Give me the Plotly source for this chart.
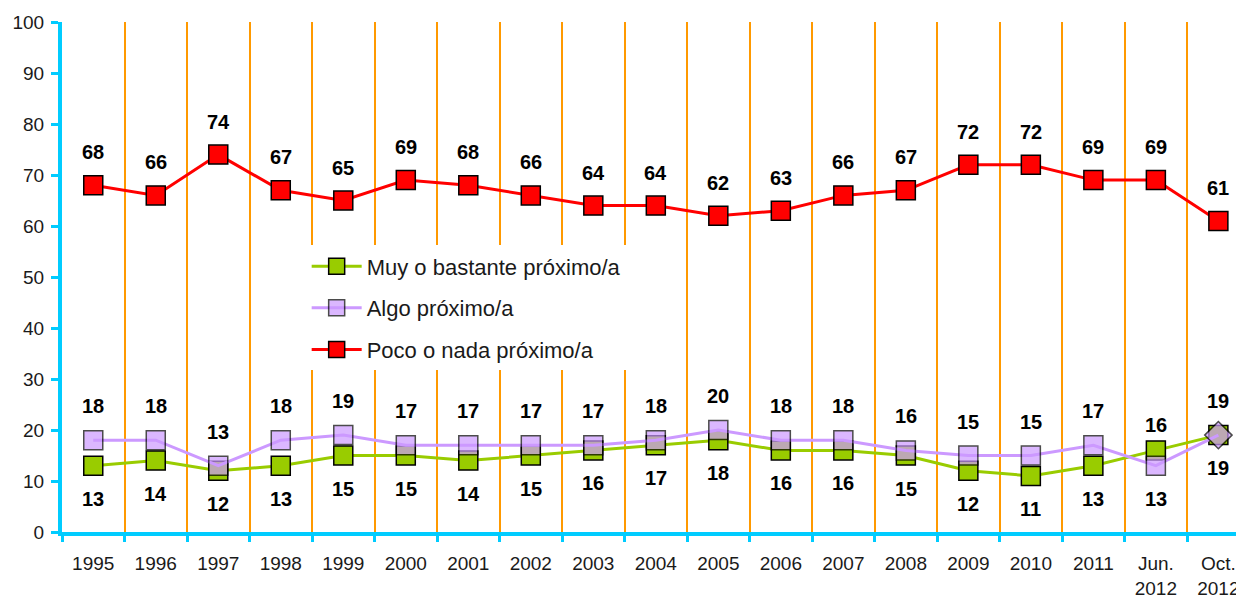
import plotly.graph_objects as go

categories = ["1995", "1996", "1997", "1998", "1999", "2000", "2001", "2002", "2003",
              "2004", "2005", "2006", "2007", "2008", "2009", "2010", "2011",
              "Jun.<br>2012", "Oct.<br>2012"]
muy = [13, 14, 12, 13, 15, 15, 14, 15, 16, 17, 18, 16, 16, 15, 12, 11, 13, 16, 19]
algo = [18, 18, 13, 18, 19, 17, 17, 17, 17, 18, 20, 18, 18, 16, 15, 15, 17, 13, 19]
poco = [68, 66, 74, 67, 65, 69, 68, 66, 64, 64, 62, 63, 66, 67, 72, 72, 69, 69, 61]
names = ["Muy o bastante próximo/a", "Algo próximo/a", "Poco o nada próximo/a"]

FONT = "Arial, Liberation Sans, sans-serif"
CYAN = "#00CCFF"
colors = ["#99CC00", "#CC99FF", "#FF0000"]

n = len(categories)
algo_symbols = ["square"] * (n - 1) + ["diamond"]

fig = go.Figure()
series = [muy, algo, poco]
for i, (vals, name, col) in enumerate(zip(series, names, colors)):
    sym = algo_symbols if i == 1 else "square"
    size = [19] * (n - 1) + [21] if i == 1 else 19
    fig.add_trace(go.Scatter(
        x=categories, y=vals, name=name, mode="lines+markers",
        line=dict(color=col, width=3),
        marker=dict(symbol=sym, size=size, color=col, line=dict(color="black", width=1.5)),
        legendgroup=str(i),
    ))

# label placement: green below, purple above, swapped at Jun. 2012
annotations = []
for j, c in enumerate(categories):
    swap = (j == n - 2)
    annotations.append(dict(x=j, y=poco[j], text=f"<b>{poco[j]}</b>", yshift=33))
    annotations.append(dict(x=j, y=muy[j], text=f"<b>{muy[j]}</b>", yshift=(25 if swap else -33)))
    annotations.append(dict(x=j, y=algo[j], text=f"<b>{algo[j]}</b>", yshift=(-33 if swap else 34)))
for a in annotations:
    a.update(xref="x", yref="y", showarrow=False, font=dict(family=FONT, size=20, color="black"))

# the page body adds an 8px margin, so the figure is 8px smaller than the window
fig.update_layout(
    width=1236, height=589,
    margin=dict(l=54, r=0, t=14, b=65),
    paper_bgcolor="white", plot_bgcolor="white",
    font=dict(family=FONT, size=19, color="#1a1a1a"),
    showlegend=True,
    legend=dict(x=0.207, y=0.562, xanchor="left", yanchor="top",
                bgcolor="white", borderwidth=0, tracegroupgap=10, itemwidth=50,
                traceorder="grouped", font=dict(family=FONT, size=22, color="#1a1a1a")),
    annotations=annotations,
)
fig.update_xaxes(
    type="category", range=[-0.5, 18.41], automargin=False,
    tickson="boundaries", ticks="outside", ticklen=6, tickwidth=3, tickcolor=CYAN,
    showgrid=True, gridcolor="#FF9900", gridwidth=1.5,
    showline=True, linecolor=CYAN, linewidth=4,
    ticklabelstandoff=11, tickfont=dict(size=19),
)
fig.update_yaxes(
    range=[0, 100], dtick=10, showgrid=False, zeroline=False, automargin=False,
    showline=True, linecolor=CYAN, linewidth=4,
    ticks="outside", ticklen=7, tickwidth=3, tickcolor=CYAN,
    ticklabelstandoff=3, tickfont=dict(size=19),
)

fig.write_html("out.html")
